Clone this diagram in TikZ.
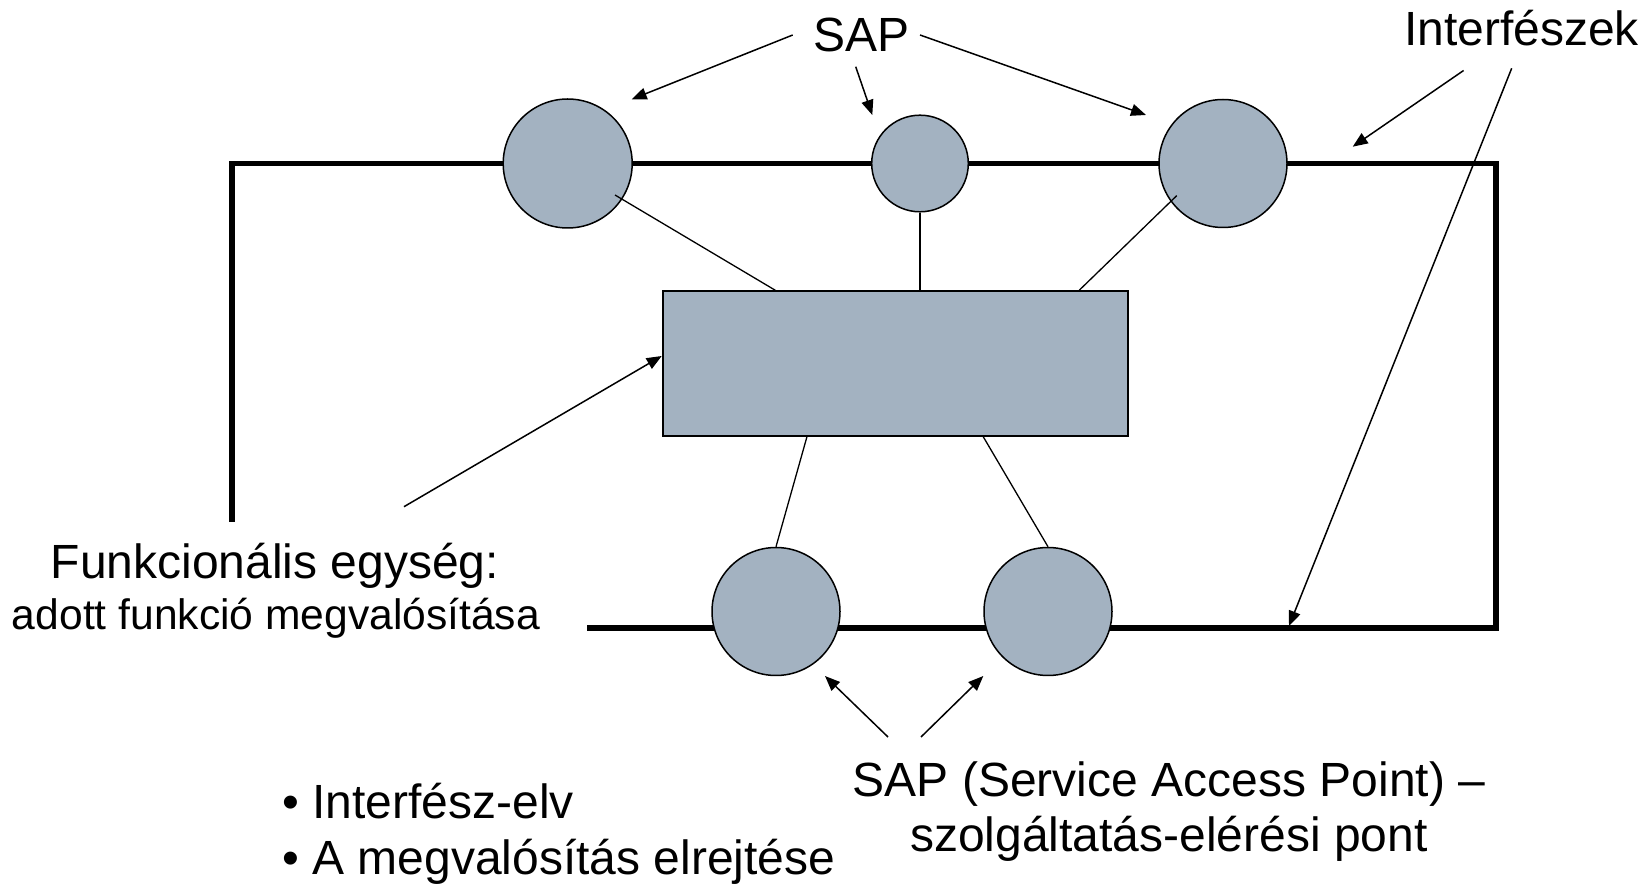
\documentclass[tikz,border=0pt]{standalone}
\usepackage{fontspec}
\setmainfont{Liberation Sans}
\usetikzlibrary{arrows.meta,calc}
\definecolor{sapfill}{RGB}{163,178,193}
\tikzset{
  sap/.style={circle, draw=black, line width=0.75pt, fill=sapfill, inner sep=0pt},
  unit/.style={rectangle, draw=black, line width=0.75pt, fill=sapfill, inner sep=0pt},
  frame/.style={line width=2.6pt, line join=miter},
  conn/.style={line width=0.65pt},
  arr/.style={line width=0.75pt, -{Triangle[length=7.5pt,width=6pt]}},
  big/.style={font=\fontsize{24pt}{28pt}\selectfont, inner sep=0pt, anchor=base},
  small/.style={font=\fontsize{21.3pt}{25pt}\selectfont, inner sep=0pt, anchor=base}
}
\begin{document}
\begin{tikzpicture}[x=0.5pt, y=-0.5pt]
\useasboundingbox (0,0) rectangle (1651,887);
% interface frame
\draw[frame] (232,521.7) -- (232,163.5) -- (1496,163.5) -- (1496,628) -- (586.7,628);
% functional unit
\node[unit, minimum width=232.5pt, minimum height=72.5pt] (r) at (895.5,363.5) {};
% connectors (under the circles)
\coordinate (k1) at ($(567.7,163.5)+(47.3,31.5)$);
\coordinate (k3) at ($(1223,163.5)+(-46.3,32.2)$);
% SAP circles
\node[sap, minimum size=64.5pt] (c1) at (567.7,163.5) {};
\node[sap, minimum size=48.3pt] (c2) at (920,163.5) {};
\node[sap, minimum size=64pt] (c3) at (1223,163.5) {};
\node[sap, minimum size=64pt] (c4) at (776,611.5) {};
\node[sap, minimum size=64pt] (c5) at (1048,611.5) {};
\draw[conn] (k1) -- ($(r.north west)+(113,0)$);
\draw[conn] (k3) -- ($(r.north west)+(417,0)$);
\draw[conn] (c2.south) -- (c2.south |- r.north);
\draw[conn] ($(r.south west)+(144.7,0)$) -- (c4.north);
\draw[conn] ($(r.south west)+(321,0)$) -- (c5.north);
% labels
\node[big] (sapT) at (861.7,51.7) {SAP};
\node[big] (intf) at (1521.5,46) {Interfészek};
\node[big] (funk1) at (275,579) {Funkcionális egység:};
\node[small] (funk2) at (276,630) {adott funkció megvalósítása};
\node[big] (sapB1) at (1169,797) {SAP (Service Access Point) –};
\node[big] (sapB2) at (1169,851) {szolgáltatás-elérési pont};
\node[big, anchor=base west] (b1) at (282,819) {• Interfész-elv};
\node[big, anchor=base west] (b2) at (282,874) {• A megvalósítás elrejtése};
% arrow ends
\coordinate (s1) at (792.7,35);   \coordinate (t1) at (631.7,99.3);
\coordinate (s2) at (855.7,66.7); \coordinate (t2) at (872.3,115);
\coordinate (s3) at (920,35);     \coordinate (t3) at (1146,115);
\coordinate (i1) at (1463.6,70.5); \coordinate (u1) at (1352.7,146.7);
\coordinate (i2) at (1511.7,68.3); \coordinate (u2) at (1289,626);
\coordinate (f1) at (404,506.7);  \coordinate (g1) at (661.7,356);
\coordinate (d1) at (888,737);    \coordinate (e1) at (825,676);
\coordinate (d2) at (921,737);    \coordinate (e2) at (983.3,676);
% arrows
\draw[arr] (s1) -- (t1);
\draw[arr] (s2) -- (t2);
\draw[arr] (s3) -- (t3);
\draw[arr] (i1) -- (u1);
\draw[arr] (i2) -- (u2);
\draw[arr] (f1) -- (g1);
\draw[arr] (d1) -- (e1);
\draw[arr] (d2) -- (e2);
\end{tikzpicture}
\end{document}
